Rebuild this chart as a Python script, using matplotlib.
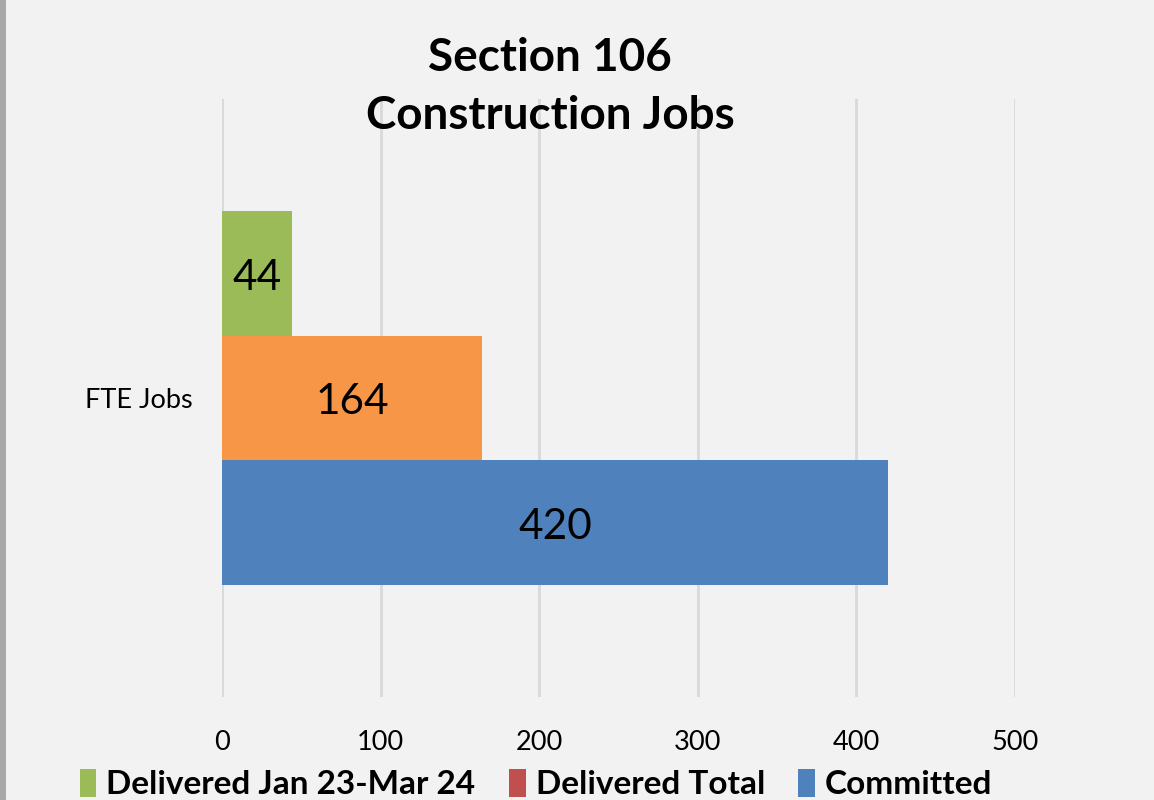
import matplotlib
matplotlib.use("Agg")
import matplotlib.pyplot as plt
from matplotlib.patches import Rectangle, Patch
import numpy as np

categories = ["FTE Jobs"]
series_names = ["Delivered Jan 23-Mar 24", "Delivered Total", "Committed"]
delivered_period = [44]
delivered_total = [164]
committed = [420]
bar_colors = ["#9bbb59", "#f79646", "#4f81bd"]
legend_colors = ["#9bbb59", "#c0504d", "#4f81bd"]
xticks = [0, 100, 200, 300, 400, 500]

FONT = ["Lato", "DejaVu Sans"]
plt.rcParams["font.family"] = FONT

fig = plt.figure(figsize=(11.54, 8.0), dpi=100, facecolor="#f2f2f2")
W, H = 1154, 800
ax = fig.add_axes([222 / W, 1 - 697 / H, (1015 - 222) / W, (697 - 99) / H])
ax.set_facecolor("#f2f2f2")

y = np.arange(len(categories))
h = 0.208
series = [delivered_period, delivered_total, committed]
offsets = [h, 0, -h]
for vals, off, col in zip(series, offsets, bar_colors):
    bars = ax.barh(y + off, vals, height=h, color=col, zorder=3)
    for b, v in zip(bars, vals):
        ax.annotate(f"{v}", (b.get_x() + b.get_width() / 2, b.get_y() + b.get_height() / 2),
                    xytext=(0, -3), textcoords="offset points",
                    ha="center", va="center", fontsize=30.5, color="black",
                    zorder=4)

ax.set_xlim(0, 500)
ax.set_ylim(-0.5, 0.5)
ax.set_xticks(xticks)
ax.set_xticklabels([str(t) for t in xticks], fontsize=19.5)
ax.set_yticks(y)
ax.set_yticklabels(categories, fontsize=19.5)
ax.tick_params(axis="both", length=0)
ax.tick_params(axis="x", pad=24)
ax.tick_params(axis="y", pad=21)
ax.grid(axis="x", color="#d9d9d9", linewidth=2, zorder=0)
for s in ax.spines.values():
    s.set_visible(False)

fig.text(550 / W, 1 - 87 / H, "Section 106\nConstruction Jobs", ha="center",
         va="center", fontsize=33, fontweight="bold", linespacing=1.45)

handles = [Patch(facecolor=c, edgecolor="none") for c in legend_colors]
fig.legend(handles, series_names, loc="center", bbox_to_anchor=(536 / W, 1 - 784 / H),
           ncol=3, frameon=False, prop={"size": 24, "weight": "bold"},
           handlelength=0.5, handleheight=0.9, handletextpad=0.3,
           columnspacing=1.0, borderaxespad=0)

fig.patches.append(Rectangle((0, 0), 6 / W, 1, transform=fig.transFigure,
                             facecolor="#a8a8a8", edgecolor="none"))

fig.savefig("out.png", dpi=100, facecolor=fig.get_facecolor())
